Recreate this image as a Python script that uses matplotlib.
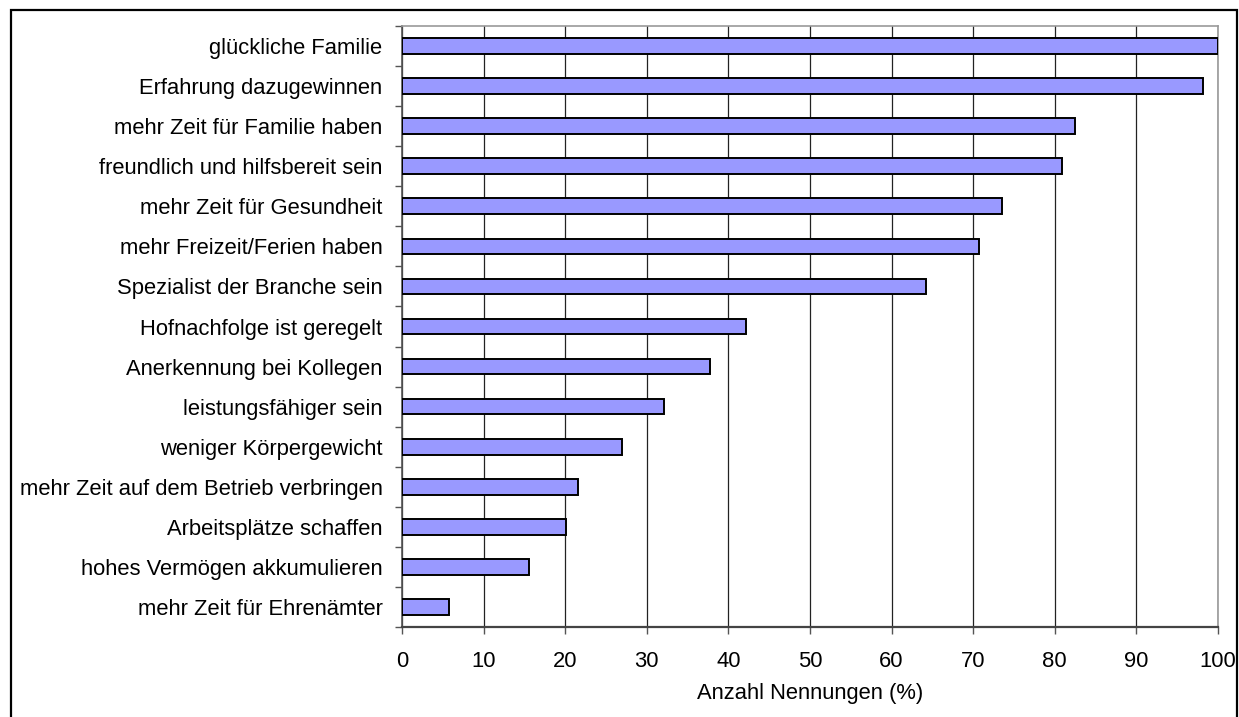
import numpy as np
import matplotlib
matplotlib.use("Agg")
import matplotlib.pyplot as plt
from matplotlib.patches import Rectangle

# data, top to bottom as in the chart
categories = [
    "glückliche Familie",
    "Erfahrung dazugewinnen",
    "mehr Zeit für Familie haben",
    "freundlich und hilfsbereit sein",
    "mehr Zeit für Gesundheit",
    "mehr Freizeit/Ferien haben",
    "Spezialist der Branche sein",
    "Hofnachfolge ist geregelt",
    "Anerkennung bei Kollegen",
    "leistungsfähiger sein",
    "weniger Körpergewicht",
    "mehr Zeit auf dem Betrieb verbringen",
    "Arbeitsplätze schaffen",
    "hohes Vermögen akkumulieren",
    "mehr Zeit für Ehrenämter",
]
values = [100, 98.2, 82.5, 80.9, 73.5, 70.7, 64.2, 42.1, 37.7, 32.1, 27.0, 21.6, 20.1, 15.6, 5.8]
x_ticks = list(range(0, 101, 10))

plt.rcParams["font.family"] = ["Liberation Sans", "DejaVu Sans"]
FS = 15.8

W, H = 1239, 717
fig = plt.figure(figsize=(W / 100, H / 100), dpi=100)
ax = fig.add_axes([402 / W, 1 - 627 / H, (1218 - 402) / W, (627 - 26) / H])

n = len(categories)
y = np.arange(n)[::-1]
ax.barh(y, values, height=0.39, color="#9999FF", edgecolor="black", linewidth=1.4, zorder=3)

ax.set_xlim(0, 100)
ax.set_ylim(-0.5, n - 0.5)
ax.set_xticks(x_ticks)
ax.set_xticklabels([str(t) for t in x_ticks], fontsize=FS)
ax.xaxis.grid(True, color="#222222", linewidth=0.9, zorder=0)

# category labels at bar centres, tick marks at category boundaries
ax.set_yticks(np.arange(-0.5, n, 1.0))
ax.set_yticklabels([])
ax.set_yticks(y, minor=True)
ax.set_yticklabels(categories, minor=True, fontsize=FS)
ax.tick_params(axis="y", which="minor", length=0, pad=14)
ax.tick_params(axis="y", which="major", length=5, width=1, color="#555555")
ax.tick_params(axis="x", length=5, width=1, color="#555555", pad=12, direction="out")

for side in ["top", "right"]:
    ax.spines[side].set_color("#999999")
    ax.spines[side].set_linewidth(1.2)
ax.spines["left"].set_color("#555555")
ax.spines["bottom"].set_color("#444444")
ax.spines["left"].set_linewidth(1.2)
ax.spines["bottom"].set_linewidth(1.6)

ax.set_xlabel("Anzahl Nennungen (%)", fontsize=FS, labelpad=8)

# figure border (bottom edge runs off the image)
fig.patches.append(Rectangle((11 / W, -5 / H), (1237 - 11) / W, (717 - 10 + 5) / H,
                             transform=fig.transFigure, fill=False,
                             edgecolor="black", linewidth=1.6))

fig.savefig("out.png", dpi=100)
